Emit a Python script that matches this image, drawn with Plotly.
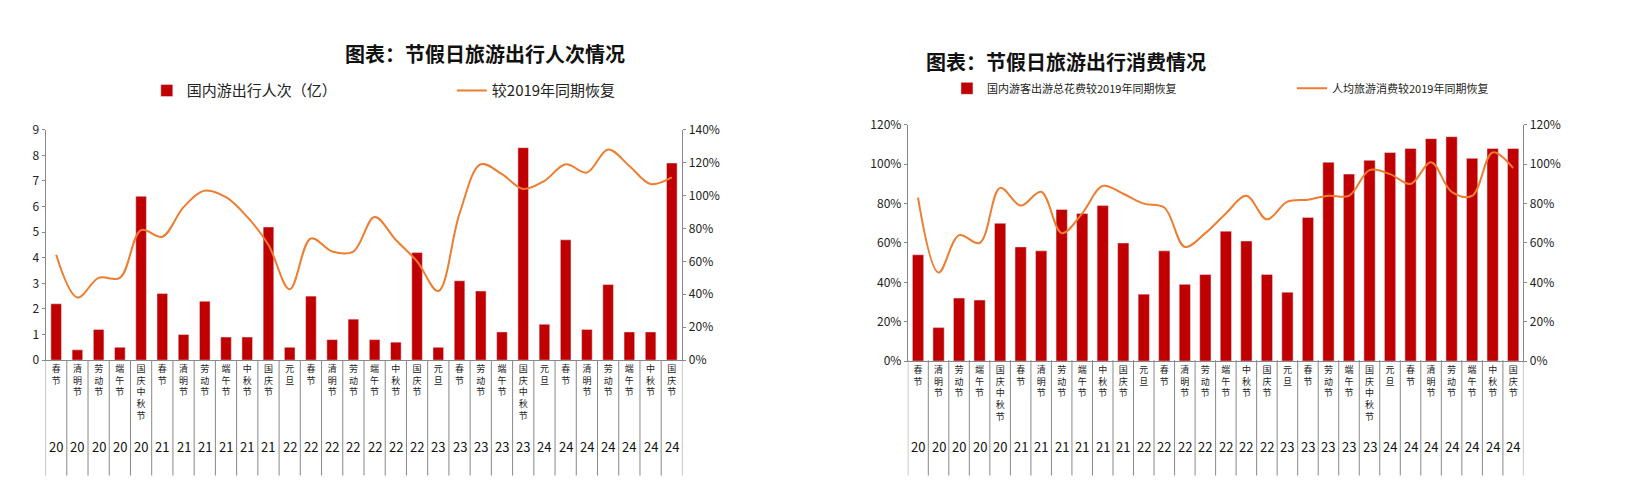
import plotly.graph_objects as go

years = ["20"] * 5 + ["21"] * 6 + ["22"] * 7 + ["23"] * 5 + ["24"] * 7
holidays = ["春节", "清明节", "劳动节", "端午节", "国庆中秋节",
            "春节", "清明节", "劳动节", "端午节", "中秋节", "国庆节",
            "元旦", "春节", "清明节", "劳动节", "端午节", "中秋节", "国庆节",
            "元旦", "春节", "劳动节", "端午节", "国庆中秋节",
            "元旦", "春节", "清明节", "劳动节", "端午节", "中秋节", "国庆节"]

# 左图：国内游出行人次（亿）与较2019年恢复（%）
trips = [2.2, 0.4, 1.2, 0.5, 6.4, 2.6, 1.0, 2.3, 0.9, 0.9, 5.2,
         0.5, 2.5, 0.8, 1.6, 0.8, 0.7, 4.2, 0.5, 3.1, 2.7, 1.1, 8.3,
         1.4, 4.7, 1.2, 2.95, 1.1, 1.1, 7.7]
trips_rec = [64, 38, 50, 50, 79, 75, 93, 103, 99, 87, 70,
             43, 74, 66, 66, 87, 73, 60, 42, 89, 119, 113, 104,
             109, 119, 114, 128, 118, 107, 111]

# 右图：总花费较2019年恢复、人均消费较2019年恢复
spend_rec = [54, 17, 32, 31, 70, 58, 56, 77, 75, 79, 60,
             34, 56, 39, 44, 66, 61, 44, 35, 73, 101, 95, 102,
             106, 108, 113, 114, 103, 108, 108]
percap_rec = [83, 45, 64, 60, 88, 79, 86, 65, 75, 89, 85,
              80, 78, 58, 65, 75, 84, 72, 81, 82, 84, 84, 97,
              95, 90, 101, 86, 84, 106, 98]

RED = "#C00000"
ORANGE = "#ED7D31"
FONT = "Noto Sans CJK SC"

idx = list(range(len(holidays)))
ticktext = ["<br>".join(h) for h in holidays]

fig = go.Figure()

fig.add_trace(go.Bar(x=idx, y=trips, name="国内游出行人次（亿）", marker_color=RED,
                     width=0.5, xaxis="x", yaxis="y", legend="legend"))
fig.add_trace(go.Scatter(x=idx, y=trips_rec, name="较2019年同期恢复", mode="lines",
                         line=dict(color=ORANGE, width=2, shape="spline"),
                         xaxis="x", yaxis="y2", legend="legend"))
fig.add_trace(go.Bar(x=idx, y=spend_rec, name="国内游客出游总花费较2019年同期恢复",
                     marker_color=RED, width=0.55, xaxis="x2", yaxis="y3", legend="legend2"))
fig.add_trace(go.Scatter(x=idx, y=percap_rec, name="人均旅游消费较2019年同期恢复", mode="lines",
                         line=dict(color=ORANGE, width=2, shape="spline"),
                         xaxis="x2", yaxis="y4", legend="legend2"))

xcommon = dict(tickmode="array", tickvals=idx, ticktext=ticktext, range=[-0.5, 29.5],
               showline=True, linecolor="#888", ticks="", tickfont=dict(size=9, color="#222"),
               automargin=False, fixedrange=True)
ycommon = dict(showgrid=False, showline=True, linecolor="#888", ticks="outside", ticklen=3,
               tickcolor="#888", tickfont=dict(size=12, color="#222"), automargin=False, zeroline=False)

fig.update_layout(
    width=1633, height=487,
    margin=dict(l=0, r=0, t=0, b=0),
    paper_bgcolor="white", plot_bgcolor="white",
    font=dict(family=FONT),
    bargap=0.5,
    xaxis=dict(domain=[0.023, 0.413], anchor="y", **xcommon),
    yaxis=dict(domain=[0.277, 0.75], range=[0, 9], dtick=1, anchor="x", **ycommon),
    yaxis2=dict(domain=[0.277, 0.75], range=[0, 140], dtick=20, ticksuffix="%",
                overlaying="y", side="right", anchor="x", **ycommon),
    xaxis2=dict(domain=[0.551, 0.928], anchor="y3", **xcommon),
    yaxis3=dict(domain=[0.275, 0.76], range=[0, 120], dtick=20, ticksuffix="%",
                anchor="x2", **ycommon),
    yaxis4=dict(domain=[0.275, 0.76], range=[0, 120], dtick=20, ticksuffix="%",
                overlaying="y3", side="right", anchor="x2", **ycommon),
    legend=dict(orientation="h", x=0.085, y=0.83, xanchor="left", yanchor="middle",
                font=dict(size=15, color="#222"), entrywidth=260),
    legend2=dict(orientation="h", x=0.575, y=0.835, xanchor="left", yanchor="middle",
                 font=dict(size=11, color="#222"), entrywidth=300),
    showlegend=True,
)

annotations = [
    dict(text="<b>图表：节假日旅游出行人次情况</b>", x=0.205, y=0.94, xref="paper", yref="paper",
         showarrow=False, font=dict(size=20, color="#111")),
    dict(text="<b>图表：节假日旅游出行消费情况</b>", x=0.735, y=0.925, xref="paper", yref="paper",
         showarrow=False, font=dict(size=20, color="#111")),
]
shapes = []
for xa, ya in (("x", "y"), ("x2", "y3")):
    for i, yr in enumerate(years):
        annotations.append(dict(text=yr, x=i, y=0.075, xref=xa, yref="paper",
                                showarrow=False, font=dict(size=13, color="#111")))
    for i in range(len(years) + 1):
        shapes.append(dict(type="line", x0=i - 0.5, x1=i - 0.5, y0=0.04, y1=0.277,
                           xref=xa, yref="paper", line=dict(color="#888", width=1)))
fig.update_layout(annotations=annotations, shapes=shapes)

fig.write_html("out.html")
